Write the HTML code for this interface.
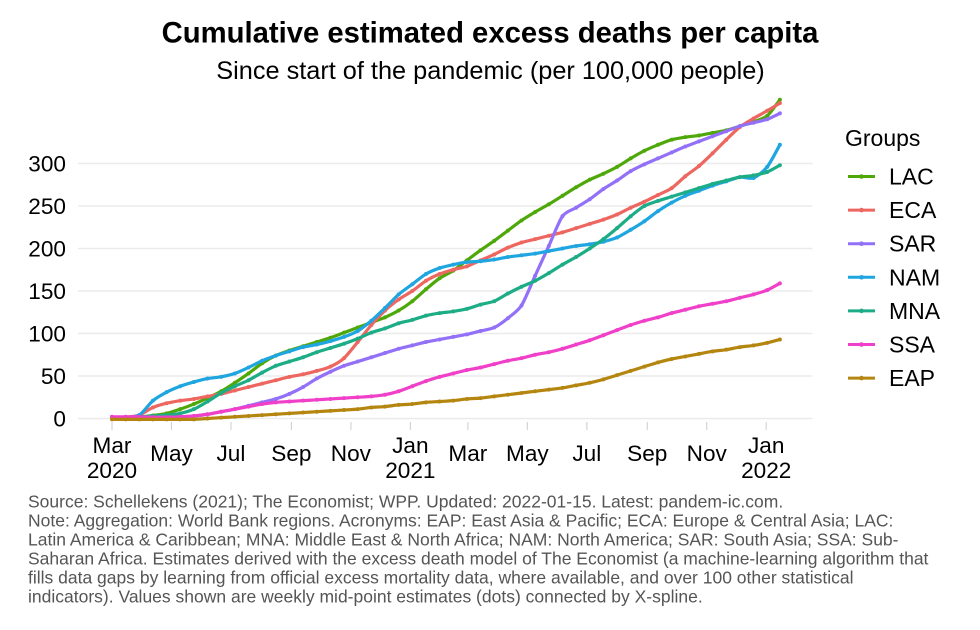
<!DOCTYPE html>
<html lang="en">
<head>
<meta charset="utf-8">
<title>Cumulative estimated excess deaths per capita</title>
<style>
html,body{margin:0;padding:0;background:#fff;}
svg{display:block;font-family:"Liberation Sans",Arial,sans-serif;}
</style>
</head>
<body>
<svg id="chart" xmlns="http://www.w3.org/2000/svg" width="980" height="630" viewBox="0 0 980 630">
  <rect x="0" y="0" width="980" height="630" fill="#ffffff"/>
  <text x="490" y="42.5" text-anchor="middle" font-size="29.25" font-weight="bold" fill="#000">Cumulative estimated excess deaths per capita</text>
  <text x="490.5" y="79" text-anchor="middle" font-size="25.3" fill="#000">Since start of the pandemic (per 100,000 people)</text>
  <g id="grid"></g>
  <g id="xaxis"></g>
  <g id="yaxis"></g>
  <g id="series"></g>
  <g id="legend">
    <text x="845" y="146" font-size="23" fill="#000">Groups</text>
  </g>
  <g font-size="17.5" fill="#555555">
    <text x="28" y="507.5">Source: Schellekens (2021); The Economist; WPP. Updated: 2022-01-15. Latest: pandem-ic.com.</text>
    <text x="28" y="526.5">Note: Aggregation: World Bank regions. Acronyms: EAP: East Asia &amp; Pacific; ECA: Europe &amp; Central Asia; LAC:</text>
    <text x="28" y="545.5">Latin America &amp; Caribbean; MNA: Middle East &amp; North Africa; NAM: North America; SAR: South Asia; SSA: Sub-</text>
    <text x="28" y="564.5">Saharan Africa. Estimates derived with the excess death model of The Economist (a machine-learning algorithm that</text>
    <text x="28" y="583.5">fills data gaps by learning from official excess mortality data, where available, and over 100 other statistical</text>
    <text x="28" y="602.5">indicators). Values shown are weekly mid-point estimates (dots) connected by X-spline.</text>
  </g>
</svg>
<script>
const dates = ["2020-03-01","2020-03-15","2020-03-29","2020-04-12","2020-04-26","2020-05-10","2020-05-24","2020-06-07","2020-06-21","2020-07-05","2020-07-19","2020-08-02","2020-08-16","2020-08-30","2020-09-13","2020-09-27","2020-10-11","2020-10-25","2020-11-08","2020-11-22","2020-12-06","2020-12-20","2021-01-03","2021-01-17","2021-01-31","2021-02-14","2021-02-28","2021-03-14","2021-03-28","2021-04-11","2021-04-25","2021-05-09","2021-05-23","2021-06-06","2021-06-20","2021-07-04","2021-07-18","2021-08-01","2021-08-15","2021-08-29","2021-09-12","2021-09-26","2021-10-10","2021-10-24","2021-11-07","2021-11-21","2021-12-05","2021-12-19","2022-01-02","2022-01-15"];
const groups = ["LAC","ECA","SAR","NAM","MNA","SSA","EAP"];
const colors = ["#4ea80a","#ee6660","#9370f8","#1fa5e0","#1dad86","#f03fc8","#b5860f"];
const LAC = [1,1,1.5,3.5,6,11,17,24,32,42,53,65,74,80,85,90,95,101,107,113,119,127,138,152,165,174,186,198,209,221,233,243,252,262,272,281,288,296,306,315,322,328,331,333,336,339,344,349,356,375];
const ECA = [1,1.5,4,13,18,21,23,26,29,33,37,41,45,49,52,56,61,71,90,110,127,140,150,162,170,175,179,186,193,201,207,211,215,219,224,229,234,240,248,255,263,271,285,297,312,328,343,353,362,371];
const SAR = [0.5,1,1,1,1.5,2,3,5,8,11,15,19,23,29,37,47,55,62,67,72,77,82,86,90,93,96,99,103,107,118,133,168,203,238,248,258,270,280,291,299,306,313,320,326,332,338,344,348,352,359];
const NAM = [1,1.5,4,21,31,38,43,47,49,53,60,68,74,79,84,87,91,96,103,115,130,146,158,170,177,181,184,185,187,190,192,194,197,200,203,205,208,213,222,232,244,254,262,268,274,279,284,283,296,322];
const MNA = [1,1.5,2,3,4,6,11,20,30,38,45,54,62,67,72,78,83,88,94,101,106,112,116,121,124,126,129,134,138,147,155,162,171,181,190,200,211,224,238,250,256,261,266,271,276,280,284,286,290,298];
const SSA = [2,2,2,1.5,1.5,2,3,5,8,11,14,17,19,20,21,22,23,24,25,26,28,32,38,44,49,53,57,60,64,68,71,75,78,82,87,92,98,104,110,115,119,124,128,132,135,138,142,146,151,159];
const EAP = [-1,-1,-1,-1,-1,-1,-1,0,1,2,3,4,5,6,7,8,9,10,11,13,14,16,17,19,20,21,23,24,26,28,30,32,34,36,39,42,46,51,56,61,66,70,73,76,79,81,84,86,89,93];
const seriesValues = [LAC,ECA,SAR,NAM,MNA,SSA,EAP];
const yTicks = [0,50,100,150,200,250,300];
const xTickDates = ["2020-03-01","2020-05-01","2020-07-01","2020-09-01","2020-11-01","2021-01-01","2021-03-01","2021-05-01","2021-07-01","2021-09-01","2021-11-01","2022-01-01"];
const xTickLabels = [["Mar","2020"],["May"],["Jul"],["Sep"],["Nov"],["Jan","2021"],["Mar"],["May"],["Jul"],["Sep"],["Nov"],["Jan","2022"]];

const NS = "http://www.w3.org/2000/svg";
const DAY = 86400000;
const startTime = Date.parse(dates[0]);
function xScale(dateString){ return 112 + 0.975 * (Date.parse(dateString) - startTime) / DAY; }
function yScale(value){ return 418.5 - 0.85 * value; }
function make(tag, attrs, parent){
  const el = document.createElementNS(NS, tag);
  for (const k in attrs) el.setAttribute(k, attrs[k]);
  parent.appendChild(el);
  return el;
}
function smoothPath(pts){
  let d = "M" + pts[0][0].toFixed(2) + "," + pts[0][1].toFixed(2);
  for (let i = 0; i < pts.length - 1; i++){
    const p0 = pts[Math.max(i - 1, 0)], p1 = pts[i], p2 = pts[i + 1], p3 = pts[Math.min(i + 2, pts.length - 1)];
    const c1x = p1[0] + (p2[0] - p0[0]) / 8, c1y = p1[1] + (p2[1] - p0[1]) / 8;
    const c2x = p2[0] - (p3[0] - p1[0]) / 8, c2y = p2[1] - (p3[1] - p1[1]) / 8;
    d += "C" + c1x.toFixed(2) + "," + c1y.toFixed(2) + " " + c2x.toFixed(2) + "," + c2y.toFixed(2) + " " + p2[0].toFixed(2) + "," + p2[1].toFixed(2);
  }
  return d;
}

const gridG = document.getElementById("grid");
const yG = document.getElementById("yaxis");
yTicks.forEach(function(t){
  const line = make("line", {x1:78, x2:812.5, y1:yScale(t), y2:yScale(t), stroke:"#ebebeb", "stroke-width":1.4}, gridG);
  
  
  const label = make("text", {x:66, y:yScale(t) + 8, "text-anchor":"end", "font-size":22.6, fill:"#000"}, yG);
  
  
  label.textContent = t;
});

const xG = document.getElementById("xaxis");
xTickDates.forEach(function(d, i){
  const px = xScale(d);
  const tick = make("line", {x1:px, x2:px, y1:422, y2:430, stroke:"#d4d4d4", "stroke-width":1.2}, xG);
  
  
  const lines = xTickLabels[i];
  lines.forEach(function(txt, j){
    const base = lines.length === 2 ? 453 + j * 25 : 461;
    const label = make("text", {x:px, y:base, "text-anchor":"middle", "font-size":22.6, fill:"#000"}, xG);
    
    
    label.textContent = txt;
  });
});

const seriesG = document.getElementById("series");
groups.forEach(function(name, s){
  const pts = dates.map(function(d, i){ return [xScale(d), yScale(seriesValues[s][i])]; });
  const g = make("g", {}, seriesG);
  
  
  const path = make("path", {d:smoothPath(pts), fill:"none", stroke:colors[s], "stroke-width":3.2, "stroke-linejoin":"round"}, g);
  
  
  pts.forEach(function(p){
    const dot = make("circle", {cx:p[0], cy:p[1], r:2, fill:colors[s]}, g);
    
    
  });
});

const legendG = document.getElementById("legend");
groups.forEach(function(name, s){
  const cy = 176.5 + s * 33.6;
  const g = make("g", {}, legendG);
  
  
  const key = make("line", {x1:848, x2:875, y1:cy, y2:cy, stroke:colors[s], "stroke-width":3}, g);
  
  
  const dot = make("circle", {cx:861.5, cy:cy, r:2.3, fill:colors[s]}, g);
  
  
  const label = make("text", {x:889, y:cy + 8, "font-size":23, fill:"#000"}, g);
  
  
  label.textContent = name;
});
</script>
</body>
</html>
